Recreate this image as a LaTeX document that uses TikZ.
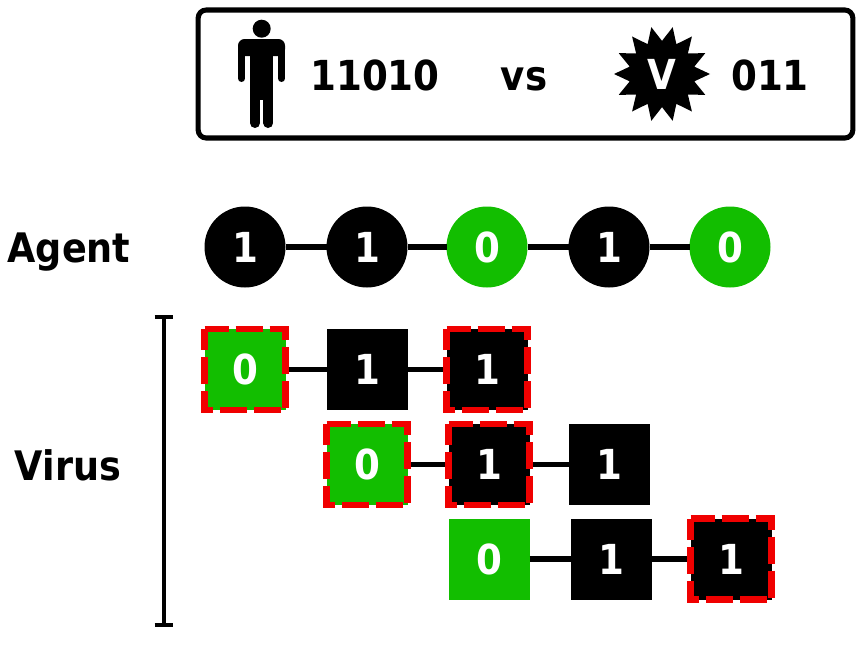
\documentclass[tikz,border=0pt]{standalone}
\usepackage{fontspec}
\setmainfont{DejaVu Sans}[FakeStretch=0.9]
\usetikzlibrary{shapes.geometric}
\definecolor{agreen}{RGB}{18,190,0}
\definecolor{ared}{RGB}{240,0,0}
\tikzset{
  px/.style={x=0.75pt,y=-0.75pt},
  bit/.style={text=white,font=\fontsize{31}{31}\selectfont\bfseries,inner sep=0pt,outer sep=0pt,text height=22.5pt,text depth=0pt},
  circ/.style={bit,circle,minimum size=60.75pt},
  sq/.style={bit,rectangle,minimum size=60.75pt},
  blk/.style={fill=black},
  grn/.style={fill=agreen},
  mark red/.style={draw=ared,line width=4.8pt,dash pattern=on 20.25pt off 5.25pt,dash phase=2.25pt},
  link/.style={line width=3.8pt,black},
  lab/.style={font=\fontsize{30.5}{31}\selectfont\bfseries,text=black,inner sep=0pt},
  titletext/.style={font=\fontsize{31}{31}\selectfont\bfseries,text=black,inner sep=0pt,text height=22.5pt,text depth=0pt},
  limb/.style={line cap=round,black},
}
\newcommand{\redmark}[1]{\draw[mark red] (#1.north west) -- (#1.north east) -- (#1.south east) -- (#1.south west) -- cycle;}
\begin{document}
\begin{tikzpicture}[px]
\useasboundingbox (0,0) rectangle (861,646);
% header
\node[draw=black,line width=3.8pt,rounded corners=6pt,minimum width=491pt,minimum height=96pt,inner sep=0pt] (box) at (525.5,74) {};
% person
\fill[black] (261.7,28.7) circle (9);
\fill[black,rounded corners=5pt] (238,56) -- (238,39) -- (285,39) -- (285,56) -- cycle;
\fill[black] (245,45) rectangle (278,52);
\fill[black] (250,50) rectangle (273.3,100);
\draw[limb,line width=5.25pt] (241.5,50) -- (241.5,78.5);
\draw[limb,line width=5.25pt] (281.5,50) -- (281.5,78.5);
\draw[limb,line width=7.5pt] (255,80) -- (255,123);
\draw[limb,line width=7.5pt] (268.3,80) -- (268.3,123);
\node[titletext] (h) at (375,75) {11010};
\node[titletext] (vs) at (524,75) {vs};
\node[star,star points=14,star point ratio=1.45,shape border rotate=90,fill=black,minimum size=72pt,inner sep=0pt,text=white,font=\fontsize{31}{31}\selectfont\bfseries] (st) at (662,74) {V};
\node[titletext] (v) at (770,75) {011};
% labels
\node[lab] (agent) at (69,252) {Agent};
\node[lab] (virus) at (68,465) {Virus};
% agent
\node[circ,blk] (a1) at (245,247) {1};
\node[circ,blk] (a2) at (367,247) {1};
\node[circ,grn] (a3) at (487,247) {0};
\node[circ,blk] (a4) at (609,247) {1};
\node[circ,grn] (a5) at (730,247) {0};
\draw[link] (a1)--(a2) (a2)--(a3) (a3)--(a4) (a4)--(a5);
% virus
\node[sq,grn] (b1) at (245,369.5) {0};
\node[sq,blk] (b2) at (367,369.5) {1};
\node[sq,blk] (b3) at (487,369.5) {1};
\node[sq,grn] (c1) at (367,464.5) {0};
\node[sq,blk] (c2) at (489,464.5) {1};
\node[sq,blk] (c3) at (609,464.5) {1};
\node[sq,grn] (d1) at (489,559) {0};
\node[sq,blk] (d2) at (611,559) {1};
\node[sq,blk] (d3) at (731,559) {1};
\draw[link] (b1)--(b2) (b2)--(b3) (c1)--(c2) (c2)--(c3) (d1)--(d2) (d2)--(d3);
\redmark{b1}\redmark{b3}\redmark{c1}\redmark{c2}\redmark{d3}
% bracket
\coordinate (bt) at (164,317);
\coordinate (bb) at (164,625);
\draw[line width=3.2pt] (bt)--(bb);
\draw[line width=3.2pt] ([xshift=-7pt]bt)--([xshift=7pt]bt);
\draw[line width=3.2pt] ([xshift=-7pt]bb)--([xshift=7pt]bb);
\end{tikzpicture}
\end{document}
